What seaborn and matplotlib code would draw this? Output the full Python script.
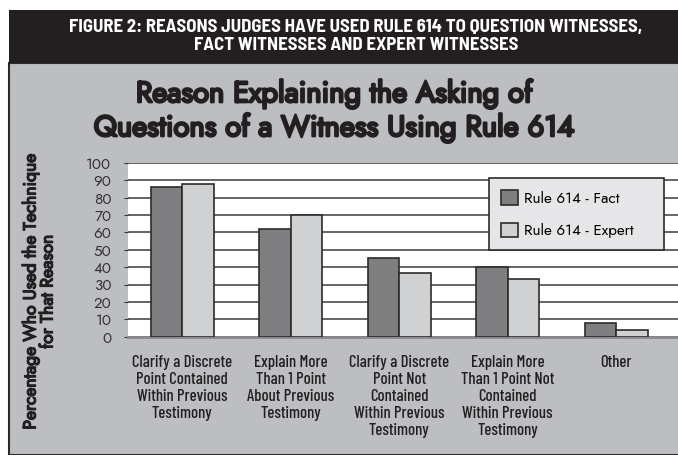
import pandas as pd
import seaborn as sns
import matplotlib.pyplot as plt
import matplotlib.patheffects as pe
from matplotlib.patches import Rectangle

reasons = [
    "Clarify a Discrete\nPoint Contained\nWithin Previous\nTestimony",
    "Explain More\nThan 1 Point\nAbout Previous\nTestimony",
    "Clarify a Discrete\nPoint Not\nContained\nWithin Previous\nTestimony",
    "Explain More\nThan 1 Point Not\nContained\nWithin Previous\nTestimony",
    "Other",
]
fact = [86, 62, 45, 40, 8]
expert = [88, 70, 36.5, 33, 4]
series = ["Rule 614 - Fact", "Rule 614 - Expert"]
yticks = [0, 10, 20, 30, 40, 50, 60, 70, 80, 90, 100]

df = pd.DataFrame({
    "reason": reasons * 2,
    "pct": fact + expert,
    "series": [series[0]] * 5 + [series[1]] * 5,
})

GEO = ["Jost", "DejaVu Sans"]
COND = ["Barlow Condensed", "Roboto Condensed", "DejaVu Sans"]
SEMI = ["Barlow Semi Condensed", "Barlow Condensed", "DejaVu Sans"]
INK = "#231f20"

W, H = 678, 455
fig = plt.figure(figsize=(W / 100, H / 100), dpi=100)
fig.patch.set_facecolor("white")

# gray panel + black header
fig.patches.append(Rectangle((9 / W, 0), 1, 1 - 63 / H, transform=fig.transFigure,
                             facecolor="#bdbec2", edgecolor="#2a2a2a", lw=1.5, zorder=-10))
fig.patches.append(Rectangle((9 / W, 1 - 63 / H), 1, 53 / H, transform=fig.transFigure,
                             facecolor=INK, edgecolor="none", zorder=-10))

fig.text(356 / W, 1 - 27 / H, "FIGURE 2: REASONS JUDGES HAVE USED RULE 614 TO QUESTION WITNESSES,",
         color="white", fontsize=13.5, fontweight="bold", family=SEMI,
         ha="center", va="center")
fig.text(356 / W, 1 - 46 / H, "FACT WITNESSES AND EXPERT WITNESSES",
         color="white", fontsize=13.5, fontweight="bold", family=SEMI,
         ha="center", va="center")

bold_fx = [pe.withStroke(linewidth=1.8, foreground=INK)]
fig.text(334 / W, 1 - 94 / H, "Reason Explaining the Asking of", color=INK,
         fontsize=21, family=GEO, ha="center", va="center", path_effects=bold_fx)
fig.text(334 / W, 1 - 128 / H, "Questions of a Witness Using Rule 614", color=INK,
         fontsize=21, family=GEO, ha="center", va="center", path_effects=bold_fx)

fig.text(39 / W, 1 - 292 / H, "Percentage Who Used the Technique\nfor That Reason",
         rotation=90, color=INK, fontsize=12.6, family=GEO,
         ha="center", va="center", multialignment="center", linespacing=1.0,
         path_effects=[pe.withStroke(linewidth=1.0, foreground=INK)])

ax = fig.add_axes([128 / W, 1 - 336.7 / H, 550 / W, 174 / H])
ax.set_facecolor("white")
sns.barplot(data=df, x="reason", y="pct", hue="series", palette=["#7e7e83", "#d0d1d3"],
            edgecolor="#2b2b2b", linewidth=1.2, width=0.58, ax=ax, zorder=3)

ax.set_ylim(0, 100)
ax.set_xlim(-0.5, 4.57)
ax.set_yticks(yticks)
ax.set_yticklabels([str(v) for v in yticks], family=GEO, fontsize=11, color="#333333")
ax.yaxis.grid(True, color="#4a4a4a", lw=1.2, zorder=0)
ax.set_axisbelow(True)
ax.tick_params(axis="y", length=3, color="#333333", pad=9)
ax.tick_params(axis="x", length=0, pad=13)
for lab in ax.get_xticklabels():
    lab.set_family(COND)
    lab.set_fontweight(500)
    lab.set_fontsize(12)
    lab.set_color(INK)
    lab.set_va("top")
    lab.set_linespacing(1.18)
for s in ["top", "right", "left"]:
    ax.spines[s].set_visible(False)
ax.spines["bottom"].set_color("#8a8a8a")
ax.spines["bottom"].set_linewidth(2)
ax.set_xlabel("")
ax.set_ylabel("")

leg = ax.legend(loc="upper left", bbox_to_anchor=(489 / W, 1 - 250 / H, 175 / W, 72 / H),
                bbox_transform=fig.transFigure, mode="expand", frameon=True, fancybox=False,
                prop={"family": GEO, "size": 11}, handlelength=1.1, handleheight=1.1,
                handletextpad=0.4, labelspacing=1.1, borderpad=0.8, borderaxespad=0)
leg.get_frame().set_facecolor("#e6e6e8")
leg.get_frame().set_edgecolor("#2b2b2b")
leg.get_frame().set_linewidth(1.2)
leg.get_frame().set_alpha(1)
leg.set_zorder(5)

fig.savefig("out.png", dpi=100)
